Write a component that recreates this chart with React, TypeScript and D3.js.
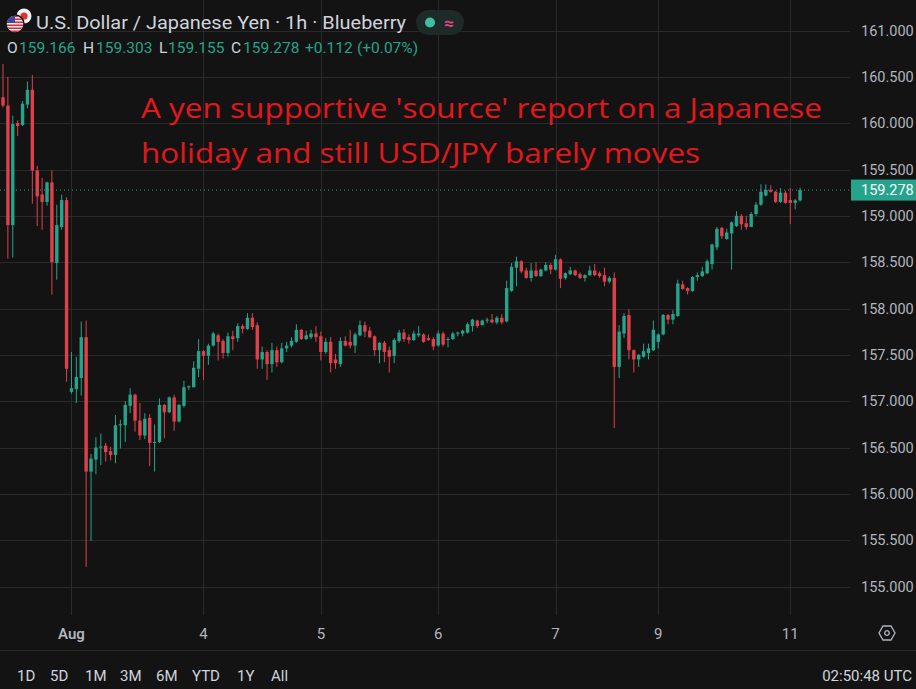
import React from 'react';
import * as d3 from 'd3';

// ---- data (USD/JPY 1h candles) ----
const opens = [
  160.28,160.19,158.90,160.00,159.98,160.20,160.36,159.49,159.23,159.15,
  159.36,158.49,158.88,159.17,157.10,157.13,157.25,157.69,156.24,156.37,
  156.50,156.52,156.46,156.42,156.74,156.74,156.95,157.07,156.79,156.63,
  156.82,156.55,156.56,156.96,156.88,157.04,156.78,156.95,157.15,157.15,
  157.35,157.54,157.49,157.60,157.71,157.65,157.52,157.70,157.68,157.81,
  157.78,157.90,157.82,157.45,157.53,157.40,157.55,157.42,157.57,157.60,
  157.64,157.77,157.67,157.69,157.73,157.70,157.53,157.64,157.45,157.40,
  157.65,157.64,157.60,157.71,157.82,157.76,157.70,157.55,157.63,157.55,
  157.49,157.65,157.74,157.69,157.66,157.71,157.72,157.68,157.67,157.60,
  157.73,157.66,157.67,157.73,157.73,157.74,157.81,157.87,157.82,157.87,
  157.88,157.85,157.90,157.86,158.19,158.44,158.51,158.41,158.33,158.41,
  158.35,158.41,158.47,158.42,158.53,158.33,158.37,158.41,158.37,158.33,
  158.36,158.41,158.38,158.36,158.29,158.33,157.37,157.73,157.93,157.55,
  157.45,157.48,157.52,157.55,157.64,157.72,157.93,157.88,157.92,158.26,
  158.22,158.19,158.34,158.35,158.38,158.48,158.66,158.87,158.75,158.81,
  158.89,159.00,158.92,158.88,159.02,159.12,159.22,159.28,159.26,159.15,
  159.25,159.17,159.14,159.166,
];
const highs = [
  160.64,160.50,160.08,160.03,160.24,160.45,160.52,159.54,159.41,159.37,
  159.49,159.12,159.23,159.20,157.53,157.48,157.86,157.87,156.43,156.61,
  156.65,156.55,156.51,156.85,156.80,157.00,157.14,157.08,156.98,156.87,
  156.86,156.75,157.03,156.97,157.05,157.07,156.97,157.22,157.17,157.43,
  157.67,157.55,157.62,157.75,157.73,157.67,157.74,157.76,157.84,157.83,
  157.95,157.95,157.85,157.59,157.55,157.63,157.59,157.63,157.64,157.69,
  157.83,157.78,157.76,157.77,157.81,157.75,157.68,157.69,157.51,157.69,
  157.70,157.77,157.74,157.87,157.86,157.80,157.71,157.64,157.65,157.59,
  157.68,157.77,157.78,157.72,157.76,157.81,157.73,157.72,157.69,157.76,
  157.75,157.69,157.75,157.75,157.77,157.85,157.89,157.88,157.88,157.90,
  157.94,157.92,157.94,158.30,158.49,158.56,158.52,158.44,158.49,158.50,
  158.43,158.50,158.49,158.58,158.54,158.39,158.45,158.42,158.39,158.37,
  158.46,158.48,158.40,158.44,158.35,158.39,157.82,157.95,157.99,157.56,
  157.51,157.62,157.62,157.87,157.73,157.94,157.94,157.98,158.31,158.30,
  158.23,158.35,158.39,158.45,158.53,158.70,158.88,158.88,158.86,158.94,
  159.05,159.02,159.00,159.04,159.15,159.34,159.34,159.33,159.27,159.30,
  159.27,159.30,159.18,159.303,
];
const lows = [
  160.17,158.54,158.55,159.86,159.97,160.16,159.13,158.89,158.85,159.11,
  158.15,158.31,158.85,157.21,157.08,156.98,157.06,155.21,155.49,156.21,
  156.31,156.35,156.36,156.33,156.49,156.56,156.87,156.67,156.58,156.59,
  156.30,156.24,156.55,156.60,156.87,156.68,156.77,156.93,157.12,157.15,
  157.26,157.23,157.39,157.59,157.44,157.46,157.48,157.55,157.64,157.73,
  157.77,157.77,157.35,157.35,157.23,157.31,157.37,157.41,157.53,157.58,
  157.63,157.66,157.66,157.67,157.64,157.44,157.51,157.31,157.35,157.37,
  157.59,157.57,157.52,157.70,157.69,157.68,157.49,157.41,157.42,157.31,
  157.41,157.63,157.64,157.62,157.65,157.69,157.63,157.65,157.55,157.59,
  157.59,157.58,157.66,157.70,157.70,157.73,157.75,157.79,157.82,157.84,
  157.84,157.83,157.83,157.85,158.18,158.24,158.38,158.32,158.29,158.34,
  158.34,158.40,158.37,158.41,158.22,158.31,158.36,158.35,158.32,158.29,
  158.35,158.35,158.33,158.24,158.27,156.71,157.25,157.68,157.45,157.31,
  157.37,157.47,157.45,157.54,157.57,157.71,157.83,157.83,157.91,158.20,
  158.15,158.18,158.30,158.34,158.37,158.42,158.63,158.75,158.74,158.42,
  158.88,158.85,158.85,158.88,159.00,159.11,159.21,159.25,159.14,159.14,
  159.13,158.91,159.07,159.155,
];
const closes = [
  160.19,158.90,159.99,159.97,160.21,160.36,159.49,159.21,159.15,159.36,
  158.50,158.90,159.17,157.35,157.14,157.26,157.69,156.24,156.38,156.50,
  156.51,156.45,156.42,156.74,156.75,156.96,157.07,156.79,156.63,156.81,
  156.55,156.56,156.96,156.88,157.04,156.78,156.96,157.15,157.16,157.36,
  157.54,157.49,157.60,157.73,157.64,157.52,157.70,157.67,157.81,157.78,
  157.90,157.80,157.45,157.53,157.40,157.55,157.42,157.57,157.60,157.65,
  157.77,157.67,157.71,157.73,157.69,157.53,157.64,157.41,157.41,157.65,
  157.60,157.60,157.72,157.82,157.75,157.69,157.55,157.63,157.53,157.48,
  157.66,157.74,157.67,157.66,157.73,157.73,157.64,157.66,157.59,157.73,
  157.61,157.67,157.73,157.74,157.76,157.83,157.88,157.81,157.87,157.88,
  157.85,157.90,157.85,158.22,158.45,158.51,158.40,158.33,158.41,158.35,
  158.42,158.47,158.42,158.53,158.32,158.38,158.41,158.36,158.33,158.36,
  158.41,158.36,158.35,158.29,158.33,157.37,157.75,157.92,157.55,157.45,
  157.50,157.54,157.57,157.77,157.72,157.93,157.88,157.94,158.27,158.21,
  158.19,158.34,158.36,158.40,158.51,158.69,158.86,158.78,158.82,158.93,
  159.00,158.91,158.88,159.02,159.12,159.26,159.28,159.26,159.15,159.25,
  159.14,159.14,159.166,159.278,
];
const priceTicks = [161, 160.5, 160, 159.5, 159, 158.5, 158, 157.5, 157, 156.5, 156, 155.5, 155];
const dayLabels = ['Aug', '4', '5', '6', '7', '9', '11'];
const dayCandle = [14, 41, 65, 89, 113, 134, 161];
const rangeButtons = ['1D', '5D', '1M', '3M', '6M', 'YTD', '1Y', 'All'];
const titleText = 'U.S. Dollar / Japanese Yen · 1h · Blueberry';
const noteLines = [
  "A yen supportive 'source' report on a Japanese",
  'holiday and still USD/JPY barely moves',
];
const clockText = '02:50:48 UTC';

export default function App() {
  const W = 916, H = 689;
  const paneRight = 850, paneBottom = 615;
  const BG = '#131313';
  const GRID = '#2a2a2a';
  const UP = '#26a48b';
  const DOWN = '#e0404b';
  const TXT = '#d1d4dc';
  const AX = '#b2b5be';
  const n = closes.length;

  const x = d3.scaleLinear().domain([0, n - 1]).range([3, 3 + (n - 1) * 4.89]);
  const y = d3.scaleLinear().domain([155, 161]).range([586.5, 30.5]);
  const fmt = d3.format('.3f');
  const last = n - 1;
  const lastClose = closes[last];
  const chg = lastClose - closes[last - 1];
  const pct = (chg / closes[last - 1]) * 100;
  const bodyW = 3.4;

  const ohlcParts: { t: string; c: string; x: number }[] = [
    { t: 'O', c: TXT, x: 7 },
    { t: fmt(opens[last]), c: UP, x: 19 },
    { t: 'H', c: TXT, x: 83 },
    { t: fmt(highs[last]), c: UP, x: 96 },
    { t: 'L', c: TXT, x: 159 },
    { t: fmt(lows[last]), c: UP, x: 168 },
    { t: 'C', c: TXT, x: 231 },
    { t: fmt(lastClose), c: UP, x: 243 },
    { t: (chg >= 0 ? '+' : '') + fmt(chg), c: UP, x: 305 },
    { t: '(' + (pct >= 0 ? '+' : '') + pct.toFixed(2) + '%)', c: UP, x: 357 },
  ];
  const btnX = [17, 50, 85, 120, 156, 192, 237, 271];

  return (
    <svg width={W} height={H} style={{ position: 'absolute', left: 0, top: 0, display: 'block', background: BG }}
      fontFamily="Roboto, 'Noto Sans', sans-serif">
      <rect x={0} y={0} width={W} height={H} fill={BG} />
      {/* grid */}
      {priceTicks.map((p) => (
        <line key={'h' + p} x1={0} x2={paneRight} y1={Math.round(y(p)) + 0.5} y2={Math.round(y(p)) + 0.5} stroke={GRID} strokeWidth={1} />
      ))}
      {dayCandle.map((c, i) => (
        <line key={'v' + i} x1={Math.round(x(c)) + 0.5} x2={Math.round(x(c)) + 0.5} y1={0} y2={paneBottom} stroke={GRID} strokeWidth={1} />
      ))}
      {/* candles */}
      {closes.map((c, i) => {
        const o = opens[i];
        const up = c >= o;
        const col = up ? UP : DOWN;
        const cx = x(i);
        const top = y(Math.max(o, c));
        const bot = y(Math.min(o, c));
        return (
          <g key={'c' + i}>
            <line x1={cx} x2={cx} y1={y(highs[i])} y2={y(lows[i])} stroke={col} strokeWidth={1} />
            <rect x={cx - bodyW / 2} y={top} width={bodyW} height={Math.max(1, bot - top)} fill={col} />
          </g>
        );
      })}
      {/* last price line */}
      <line x1={0} x2={paneRight} y1={y(lastClose)} y2={y(lastClose)} stroke={UP} strokeWidth={1} strokeDasharray="1 3" />
      {/* price axis */}
      {priceTicks.map((p) => (
        <text key={'t' + p} x={861} y={y(p)} dy="0.36em" fontSize={14.5} fill={AX}>{fmt(p)}</text>
      ))}
      <rect x={851} y={y(lastClose) - 10.5} width={W - 851} height={21} fill={UP} />
      <text x={861} y={y(lastClose)} dy="0.36em" fontSize={14.5} fill="#ffffff">{fmt(lastClose)}</text>
      {/* time axis */}
      {dayLabels.map((l, i) => (
        <text key={'d' + i} x={x(dayCandle[i])} y={634} dy="0.36em" textAnchor="middle" fontSize={15} fill={AX}
          fontWeight={l === 'Aug' ? 600 : 400}>{l}</text>
      ))}
      <g transform="translate(887,633)" fill="none" stroke={AX} strokeWidth={1.3}>
        <path d="M-4,-7 L4,-7 L8,0 L4,7 L-4,7 L-8,0 Z" />
        <circle r={2.3} />
      </g>
      <line x1={0} x2={W} y1={650.5} y2={650.5} stroke={GRID} strokeWidth={1} />
      {rangeButtons.map((b, i) => (
        <text key={'b' + i} x={btnX[i]} y={681} fontSize={15} fill={TXT}>{b}</text>
      ))}
      <text x={912} y={681} textAnchor="end" fontSize={15} fill={TXT}>{clockText}</text>
      {/* header */}
      <g>
        <circle cx={24} cy={16} r={7.5} fill="#f2f2f2" />
        <circle cx={24} cy={16} r={3.6} fill="#e0303a" />
        <circle cx={15} cy={24} r={9} fill="#e8e8e8" stroke={BG} strokeWidth={1.5} />
        <clipPath id="flagclip"><circle cx={15} cy={24} r={8.3} /></clipPath>
        <g clipPath="url(#flagclip)">
          {[0, 1, 2, 3, 4, 5].map((k) => (
            <rect key={k} x={6} y={15.5 + k * 3} width={18} height={1.5} fill="#d03040" />
          ))}
          <rect x={6} y={15} width={9} height={8} fill="#3b4a9a" />
        </g>
      </g>
      <text x={36} y={29} fontSize={19} fill={TXT} textLength={370} lengthAdjust="spacingAndGlyphs">{titleText}</text>
      <rect x={416} y={10} width={48} height={25} rx={12.5} fill="#1d2a27" />
      <circle cx={430} cy={22.5} r={5} fill="#3fbf9f" />
      <text x={449} y={22.5} dy="0.36em" textAnchor="middle" fontSize={17} fontWeight={700} fill="#e5457f">≈</text>
      {ohlcParts.map((p, i) => (
        <text key={'o' + i} x={p.x} y={53} fontSize={15.5} fill={p.c}>{p.t}</text>
      ))}
      {/* annotation */}
      <text x={141} y={118} fontFamily="'Open Sans', sans-serif" fontSize={28} fill="#e3171c"
        textLength={681} lengthAdjust="spacingAndGlyphs">{noteLines[0]}</text>
      <text x={141} y={163} fontFamily="'Open Sans', sans-serif" fontSize={28} fill="#e3171c"
        textLength={559} lengthAdjust="spacingAndGlyphs">{noteLines[1]}</text>
    </svg>
  );
}
